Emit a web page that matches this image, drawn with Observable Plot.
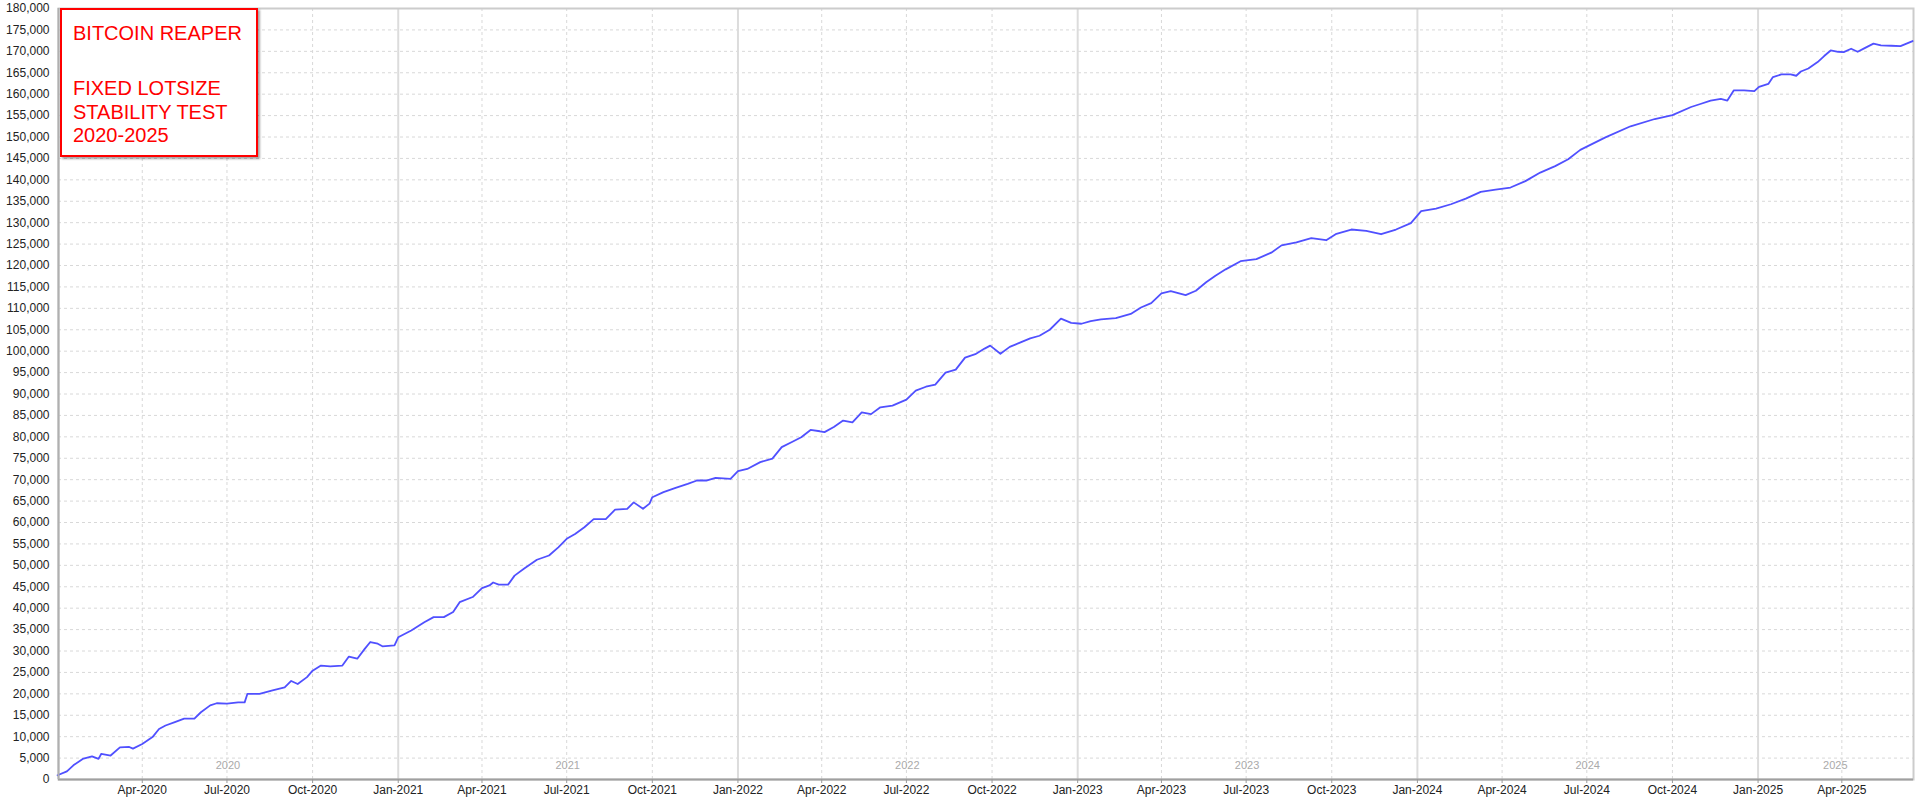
<!DOCTYPE html>
<html>
<head>
<meta charset="utf-8">
<script src="https://cdn.jsdelivr.net/npm/d3@7"></script>
<script src="https://cdn.jsdelivr.net/npm/@observablehq/plot@0.6"></script>
<style>
  html, body { margin: 0; padding: 0; background: #fff; }
  #wrap { position: relative; width: 1920px; height: 800px; }
  #note {
    position: absolute; left: 60px; top: 8px; width: 198px; height: 149px;
    border: 2px solid #ff0000; background: #fff;
    box-shadow: 2px 2px 2px rgba(0,0,0,0.35);
    font-family: "Liberation Sans", Arial, sans-serif; font-size: 20px;
    line-height: 23.5px; color: #ff0000; padding: 12px 0 0 11px; box-sizing: border-box;
    white-space: pre;
  }
  #note .blank { height: 31.5px; }
</style>
</head>
<body>
<div id="wrap"></div>
<script>
const dates = [
  "2020-01-01","2020-01-11","2020-01-18","2020-01-28","2020-02-07","2020-02-14","2020-02-17","2020-02-27",
  "2020-03-08","2020-03-18","2020-03-22","2020-04-01","2020-04-12","2020-04-19","2020-04-26","2020-05-06",
  "2020-05-16","2020-05-27","2020-06-03","2020-06-13","2020-06-20","2020-07-01","2020-07-13","2020-07-20",
  "2020-07-23","2020-08-05","2020-08-19","2020-09-01","2020-09-08","2020-09-15","2020-09-25","2020-10-01",
  "2020-10-10","2020-10-20","2020-11-02","2020-11-09","2020-11-18","2020-11-26","2020-12-02","2020-12-10",
  "2020-12-15","2020-12-28",
  "2021-01-01","2021-01-15","2021-01-29","2021-02-08","2021-02-19","2021-03-01","2021-03-08","2021-03-22",
  "2021-04-01","2021-04-09","2021-04-13","2021-04-19","2021-04-29","2021-05-06","2021-05-16","2021-05-30",
  "2021-06-12","2021-06-22","2021-07-01","2021-07-10","2021-07-20","2021-07-30","2021-08-12","2021-08-22",
  "2021-09-04","2021-09-11","2021-09-21","2021-09-28","2021-10-01","2021-10-13","2021-10-26","2021-11-08",
  "2021-11-18","2021-11-28","2021-12-08","2021-12-24",
  "2022-01-01","2022-01-11","2022-01-25","2022-02-07","2022-02-17","2022-02-28","2022-03-10","2022-03-20",
  "2022-03-30","2022-04-04","2022-04-14","2022-04-24","2022-05-04","2022-05-14","2022-05-24","2022-06-03",
  "2022-06-16","2022-07-01","2022-07-11","2022-07-22","2022-08-01","2022-08-12","2022-08-23","2022-09-02",
  "2022-09-13","2022-09-23","2022-09-29","2022-10-10","2022-10-20","2022-10-31","2022-11-11","2022-11-21",
  "2022-12-02","2022-12-14","2022-12-25",
  "2023-01-05","2023-01-15","2023-01-26","2023-02-11","2023-02-27","2023-03-10","2023-03-21","2023-04-01",
  "2023-04-11","2023-04-27","2023-05-08","2023-05-19","2023-05-29","2023-06-09","2023-06-25","2023-07-12",
  "2023-07-28","2023-08-08","2023-08-24","2023-09-09","2023-09-25","2023-10-06","2023-10-22","2023-11-07",
  "2023-11-23","2023-12-09","2023-12-25",
  "2024-01-05","2024-01-21","2024-02-06","2024-02-22","2024-03-09","2024-03-25","2024-04-10","2024-04-26",
  "2024-05-12","2024-05-28","2024-06-11","2024-06-24","2024-07-21","2024-08-17","2024-09-12","2024-10-01",
  "2024-10-21","2024-10-31","2024-11-11","2024-11-22","2024-11-29","2024-12-06","2024-12-17","2024-12-28",
  "2025-01-02","2025-01-12","2025-01-17","2025-01-26","2025-02-05","2025-02-11","2025-02-16","2025-02-24",
  "2025-03-06","2025-03-13","2025-03-20","2025-03-28","2025-04-03","2025-04-11","2025-04-18","2025-04-25",
  "2025-05-05","2025-05-13","2025-05-24","2025-06-03","2025-06-16"
];
const equity = [
  1000,1900,3300,4800,5400,4800,6000,5600,
  7500,7600,7200,8300,9900,11800,12600,13400,
  14200,14200,15700,17300,17800,17700,18000,18000,
  20000,20000,20800,21500,23000,22300,23900,25400,
  26600,26400,26600,28700,28200,30500,32100,31700,
  31100,31300,
  33200,34800,36700,37900,37900,39100,41400,42600,
  44700,45300,46000,45500,45500,47600,49200,51300,
  52300,54200,56200,57300,58900,60800,60800,63000,
  63200,64700,63200,64400,65900,67100,68100,69000,
  69800,69800,70400,70200,
  72000,72500,74100,74900,77600,78800,79900,81600,
  81300,81100,82300,83800,83400,85700,85300,86900,
  87300,88700,90800,91700,92200,95000,95700,98500,
  99300,100600,101300,99400,101000,102000,103000,103600,
  105000,107600,106600,
  106400,107000,107400,107700,108700,110200,111200,113500,
  114000,113100,114100,116100,117600,119100,121000,121500,
  123000,124700,125400,126400,125900,127400,128400,128100,
  127300,128400,129900,
  132700,133300,134300,135600,137200,137700,138200,139700,
  141700,143200,144800,147000,149900,152500,154200,155100,
  157000,157700,158500,158900,158500,160900,160900,160700,
  161700,162400,164000,164600,164600,164300,165300,166000,
  167500,168900,170200,169900,169800,170600,169900,170700,
  171800,171400,171300,171200,172400
];
const yearLabels = ["2020","2021","2022","2023","2024","2025"];
const yearLabelDates = ["2020-07-02","2021-07-02","2022-07-02","2023-07-02","2024-07-02","2025-03-25"];
const quarterTicks = [
  "2020-04-01","2020-07-01","2020-10-01","2021-01-01","2021-04-01","2021-07-01","2021-10-01",
  "2022-01-01","2022-04-01","2022-07-01","2022-10-01","2023-01-01","2023-04-01","2023-07-01","2023-10-01",
  "2024-01-01","2024-04-01","2024-07-01","2024-10-01","2025-01-01","2025-04-01"
];
const yearStarts = ["2021-01-01","2022-01-01","2023-01-01","2024-01-01","2025-01-01"];
const noteLines = ["BITCOIN REAPER", "", "FIXED LOTSIZE", "STABILITY TEST", "2020-2025"];

const data = dates.map((d, i) => ({date: new Date(d), value: equity[i]}));
const qTicks = quarterTicks.map(d => new Date(d));
const yStarts = yearStarts.map(d => new Date(d));
const minorQ = qTicks.filter(d => d.getUTCMonth() !== 0);
const years = yearLabels.map((t, i) => ({label: t, date: new Date(yearLabelDates[i])}));
const x0 = new Date("2020-01-02"), x1 = new Date("2025-06-17");

const chart = Plot.plot({
  width: 1920,
  height: 800,
  marginLeft: 58,
  marginRight: 7,
  marginTop: 8,
  marginBottom: 21,
  style: {fontFamily: "'Liberation Sans', Arial, sans-serif", fontSize: "12px", color: "#222", background: "#fff"},
  x: {type: "utc", domain: [x0, x1], ticks: qTicks, tickFormat: d3.utcFormat("%b-%Y"), tickSize: 4, tickPadding: 2, label: null},
  y: {domain: [0, 180000], ticks: d3.range(0, 180001, 5000), tickFormat: d3.format(","), tickSize: 0, tickPadding: 9, label: null},
  marks: [
    Plot.gridY(d3.range(5000, 180001, 5000), {stroke: "#d8d8d8", strokeOpacity: 1, strokeDasharray: "3,3"}),
    Plot.ruleX(minorQ, {stroke: "#d8d8d8", strokeDasharray: "3,3"}),
    Plot.ruleX(yStarts, {stroke: "#dcdcdc", strokeWidth: 2}),
    Plot.frame({stroke: "#cccccc", strokeWidth: 2}),
    Plot.text(years, {x: "date", text: "label", frameAnchor: "bottom", dy: -11, fill: "#aaaaaa", fontSize: 11}),
    Plot.line(data, {x: "date", y: "value", stroke: "#5050ff", strokeWidth: 1.8}),
    Plot.ruleY([0], {stroke: "#a0a0a0", strokeWidth: 2}),
    Plot.ruleX([x0], {stroke: "#b0b0b0", strokeWidth: 2}),
    Plot.axisX({ticks: qTicks, tickFormat: d3.utcFormat("%b-%Y"), tickSize: 4, tickPadding: 2, stroke: "#999", fill: "#222", fontSize: 12}),
    Plot.axisY({ticks: d3.range(0, 180001, 5000), tickFormat: d3.format(","), tickSize: 0, tickPadding: 9, fill: "#222", fontSize: 12})
  ]
});

const wrap = document.getElementById("wrap");
wrap.appendChild(chart);
const note = document.createElement("div");
note.id = "note";
noteLines.forEach(t => {
  const line = document.createElement("div");
  if (t === "") line.className = "blank";
  else line.textContent = t;
  note.appendChild(line);
});
wrap.appendChild(note);
</script>
</body>
</html>
